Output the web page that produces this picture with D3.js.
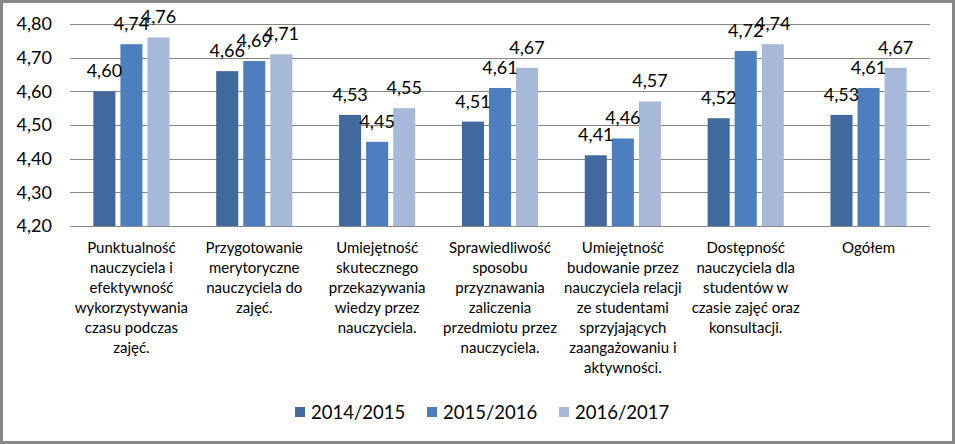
<!DOCTYPE html>
<html><head><meta charset="utf-8">
<script src="https://cdn.jsdelivr.net/npm/d3@7/dist/d3.min.js"></script>
<style>body{margin:0;background:#fff}svg{display:block}</style>
</head><body>
<svg id="c" width="955" height="444"></svg>
<script>
const categories = [
  ["Punktualność","nauczyciela i","efektywność","wykorzystywania","czasu podczas","zajęć."],
  ["Przygotowanie","merytoryczne","nauczyciela do","zajęć."],
  ["Umiejętność","skutecznego","przekazywania","wiedzy przez","nauczyciela."],
  ["Sprawiedliwość","sposobu","przyznawania","zaliczenia","przedmiotu przez","nauczyciela."],
  ["Umiejętność","budowanie przez","nauczyciela relacji","ze studentami","sprzyjających","zaangażowaniu i","aktywności."],
  ["Dostępność","nauczyciela dla","studentów w","czasie zajęć oraz","konsultacji."],
  ["Ogółem"]
];
const seriesNames = ["2014/2015","2015/2016","2016/2017"];
const s2014 = [4.60, 4.66, 4.53, 4.51, 4.41, 4.52, 4.53];
const s2015 = [4.74, 4.69, 4.45, 4.61, 4.46, 4.72, 4.61];
const s2016 = [4.76, 4.71, 4.55, 4.67, 4.57, 4.74, 4.67];
const yTicks = [4.2, 4.3, 4.4, 4.5, 4.6, 4.7, 4.8];
const colors = ["#41699D", "#4D7FBE", "#A7B9D8"];

const series = [s2014, s2015, s2016];
const font = "Lato, 'Liberation Sans', sans-serif";
const svg = d3.select("#c");
const L = 70, R = 930, T = 24, B = 226;

svg.append("rect").attr("x",1.5).attr("y",1.5).attr("width",952).attr("height",441)
  .attr("fill","#fff").attr("stroke","#878787").attr("stroke-width",3);

const y = d3.scaleLinear().domain([4.2, 4.8]).range([B, T]);
const x0 = d3.scaleBand().domain(d3.range(categories.length)).range([L, R])
  .paddingInner(0.38).paddingOuter(0.19);
const x1 = d3.scaleBand().domain(d3.range(series.length)).range([0, x0.bandwidth()])
  .paddingInner(0.185).paddingOuter(0);

const yAxis = d3.axisLeft(y).tickValues(yTicks).tickSize(-(R - L)).tickPadding(18)
  .tickFormat(d => d3.format(".2f")(d).replace(".", ","));
const ga = svg.append("g").attr("transform", `translate(${L},0)`).call(yAxis);
ga.select(".domain").remove();
ga.selectAll("line").attr("stroke","#878787").attr("stroke-width",1)
  .attr("shape-rendering","crispEdges");
ga.selectAll("text").attr("font-family",font).attr("font-size",18).attr("fill","#000")
  .attr("x", -18);

const groups = svg.append("g").selectAll("g").data(categories).join("g")
  .attr("transform", (d,i) => `translate(${x0(i)},0)`);
series.forEach((s, si) => {
  groups.append("rect")
    .attr("x", x1(si)).attr("width", x1.bandwidth())
    .attr("y", (d,i) => y(s[i])).attr("height", (d,i) => B - y(s[i]))
    .attr("fill", colors[si]);
});
series.forEach((s, si) => {
  groups.append("text")
    .attr("x", x1(si) + x1.bandwidth()/2)
    .attr("y", (d,i) => y(s[i]) - 14)
    .attr("text-anchor","middle").attr("font-family",font).attr("font-size",18)
    .attr("fill","#000")
    .text((d,i) => d3.format(".2f")(s[i]).replace(".", ","));
});

svg.append("line").attr("x1",L).attr("x2",R).attr("y1",B).attr("y2",B)
  .attr("stroke","#878787").attr("stroke-width",1).attr("shape-rendering","crispEdges");

const cl = svg.append("g").selectAll("text").data(categories).join("text")
  .attr("text-anchor","middle").attr("font-family",font).attr("font-size",15)
  .attr("fill","#000")
  .attr("transform", (d,i) => `translate(${x0(i) + x0.bandwidth()/2},253)`);
cl.selectAll("tspan").data(d => d).join("tspan")
  .attr("x",0).attr("dy",(d,i) => i === 0 ? 0 : 20).text(d => d);

const legX = [295, 427, 559];
const leg = svg.append("g").selectAll("g").data(seriesNames).join("g")
  .attr("transform", (d,i) => `translate(${legX[i]},412)`);
leg.append("rect").attr("x",0).attr("y",-5).attr("width",10).attr("height",10)
  .attr("fill",(d,i) => colors[i]);
leg.append("text").attr("x",16).attr("y",7).attr("font-family",font).attr("font-size",18.5)
  .attr("fill","#000").text(d => d);
</script>
</body></html>
